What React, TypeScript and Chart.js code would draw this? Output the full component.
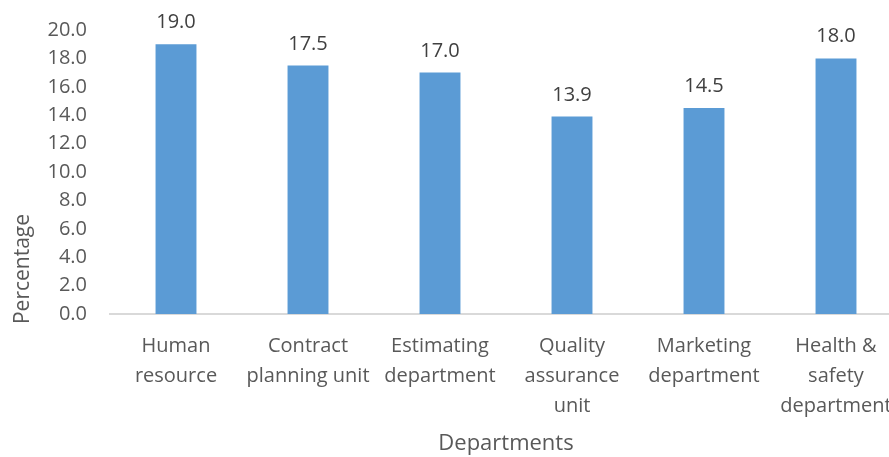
import React, { useEffect, useRef } from "react";
import { Chart, registerables } from "chart.js";

Chart.register(...registerables);

const categories: string[][] = [
  ["Human", "resource"],
  ["Contract", "planning unit"],
  ["Estimating", "department"],
  ["Quality", "assurance", "unit"],
  ["Marketing", "department"],
  ["Health &", "safety", "department"],
];
const percentages: number[] = [19.0, 17.5, 17.0, 13.9, 14.5, 18.0];
const yTicks = { min: 0, max: 20, step: 2 };
const yTitle = "Percentage";
const xTitle = "Departments";

const FONT = "'Open Sans', 'Liberation Sans', sans-serif";
const TEXT = "#595959";
const BAR = "#5B9BD5";

const valueLabels = {
  id: "valueLabels",
  afterDatasetsDraw(chart: any) {
    const ctx = chart.ctx;
    const meta = chart.getDatasetMeta(0);
    ctx.save();
    ctx.font = `20px ${FONT}`;
    ctx.fillStyle = "#404040";
    ctx.textAlign = "center";
    ctx.textBaseline = "alphabetic";
    meta.data.forEach((bar: any, i: number) => {
      ctx.fillText(percentages[i].toFixed(1), bar.x, bar.y - 16);
    });
    ctx.restore();
  },
};

const yAxisTitle = {
  id: "yAxisTitle",
  afterDraw(chart: any) {
    const ctx = chart.ctx;
    ctx.save();
    ctx.font = `21px ${FONT}`;
    ctx.fillStyle = TEXT;
    ctx.textAlign = "center";
    ctx.textBaseline = "middle";
    ctx.translate(23, 269);
    ctx.rotate(-Math.PI / 2);
    ctx.fillText(yTitle, 0, 0);
    ctx.restore();
  },
};

export default function App() {
  const ref = useRef<HTMLCanvasElement | null>(null);
  useEffect(() => {
    if (!ref.current) return;
    const chart = new Chart(ref.current, {
      type: "bar",
      data: {
        labels: categories,
        datasets: [
          {
            data: percentages,
            backgroundColor: BAR,
            borderWidth: 0,
            barPercentage: 0.62,
            categoryPercentage: 0.5,
          },
        ],
      },
      options: {
        responsive: false,
        animation: false,
        layout: { padding: { top: 30, right: 8, left: 0, bottom: 0 } },
        plugins: {
          legend: { display: false },
          tooltip: { enabled: false },
        },
        scales: {
          x: {
            grid: { display: false, drawTicks: false },
            border: { display: true, color: "#D9D9D9", width: 2 },
            ticks: {
              color: TEXT,
              font: { family: FONT, size: 20, lineHeight: 1.5 },
              padding: 17,
              maxRotation: 0,
              autoSkip: false,
            },
            title: {
              display: true,
              text: xTitle,
              color: TEXT,
              font: { family: FONT, size: 22 },
              padding: { top: 0, bottom: 0 },
            },
            afterFit: (scale: any) => {
              scale.height = 143;
            },
          },
          y: {
            min: yTicks.min,
            max: yTicks.max,
            grid: { display: false, drawTicks: false },
            border: { display: false },
            ticks: {
              stepSize: yTicks.step,
              color: TEXT,
              font: { family: FONT, size: 20 },
              padding: 23,
              callback: (v: any) => Number(v).toFixed(1),
            },
            afterFit: (scale: any) => {
              scale.width = 110;
              scale.paddingTop = 0;
              scale.paddingBottom = 0;
            },
          },
        },
      },
      plugins: [valueLabels, yAxisTitle],
    });
    return () => chart.destroy();
  }, []);
  return (
    <div
      style={{
        position: "fixed",
        left: 0,
        top: 0,
        width: 889,
        height: 457,
        overflow: "hidden",
        background: "#fff",
      }}
    >
      <canvas ref={ref} width={910} height={457} style={{ display: "block" }} />
    </div>
  );
}
